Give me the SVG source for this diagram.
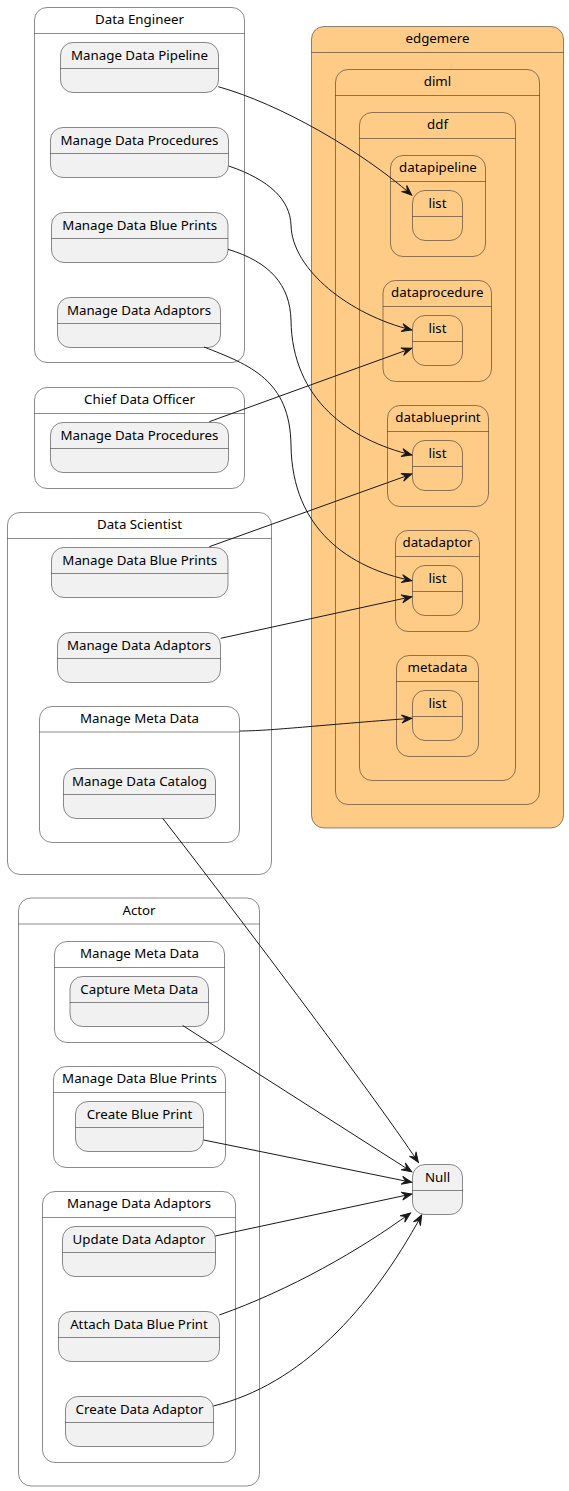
<svg xmlns="http://www.w3.org/2000/svg" width="569" height="1491" viewBox="0 0 569 1491">
<style>
.bg{fill:#FFFFFF}
.grp{fill:#FFFFFF;stroke:#181818;stroke-width:0.5}
.org{fill:#FFCC88;stroke:#181818;stroke-width:0.5}
.node{fill:#F1F1F1;stroke:#181818;stroke-width:0.5}
.onode{fill:#FFCC88;stroke:#181818;stroke-width:0.5}
.sep{stroke:#181818;stroke-width:0.5;fill:none}
.t{font-family:"Noto Sans","DejaVu Sans",sans-serif;font-size:13.3px;fill:#000000;text-anchor:middle}
.e{fill:none;stroke:#181818;stroke-width:1}
</style>
<defs>
<marker id="ah" markerUnits="userSpaceOnUse" markerWidth="12" markerHeight="10" refX="10" refY="4" orient="auto" overflow="visible">
<path d="M0,0 L10,4 L0,8 L4,4 Z" fill="#181818" stroke="#181818" stroke-width="1"/>
</marker>
</defs>
<rect class="bg" x="0" y="0" width="569" height="1491"/>

<g id="edgemere">
<rect class="org" x="311.5" y="26.5" width="252" height="801.5" rx="12.5"/>
<line class="sep" x1="311.5" y1="52.5" x2="563.5" y2="52.5"/>
<text class="t" x="437.5" y="43">edgemere</text>
</g>
<g id="diml">
<rect class="org" x="335.5" y="69.5" width="204" height="735" rx="12.5"/>
<line class="sep" x1="335.5" y1="95.5" x2="539.5" y2="95.5"/>
<text class="t" x="437.5" y="86">diml</text>
</g>
<g id="ddf">
<rect class="org" x="359.5" y="112.5" width="156" height="668" rx="12.5"/>
<line class="sep" x1="359.5" y1="138.5" x2="515.5" y2="138.5"/>
<text class="t" x="437.5" y="129">ddf</text>
</g>
<g id="datapipeline">
<rect class="org" x="390.5" y="155.5" width="95" height="101" rx="12.5"/>
<line class="sep" x1="390.5" y1="181.5" x2="485.5" y2="181.5"/>
<text class="t" x="438" y="172">datapipeline</text>
</g>
<g id="datapipeline-list">
<rect class="onode" x="412.5" y="190.5" width="50" height="50" rx="12.5"/>
<line class="sep" x1="412.5" y1="216.5" x2="462.5" y2="216.5"/>
<text class="t" x="437.5" y="208">list</text>
</g>
<g id="dataprocedure">
<rect class="org" x="383" y="280.5" width="108.5" height="101" rx="12.5"/>
<line class="sep" x1="383" y1="306.5" x2="491.5" y2="306.5"/>
<text class="t" x="437.25" y="297">dataprocedure</text>
</g>
<g id="dataprocedure-list">
<rect class="onode" x="412.5" y="315.5" width="50" height="50" rx="12.5"/>
<line class="sep" x1="412.5" y1="341.5" x2="462.5" y2="341.5"/>
<text class="t" x="437.5" y="333">list</text>
</g>
<g id="datablueprint">
<rect class="org" x="387.5" y="405.5" width="101" height="101" rx="12.5"/>
<line class="sep" x1="387.5" y1="431.5" x2="488.5" y2="431.5"/>
<text class="t" x="438" y="422">datablueprint</text>
</g>
<g id="datablueprint-list">
<rect class="onode" x="412.5" y="440.5" width="50" height="50" rx="12.5"/>
<line class="sep" x1="412.5" y1="466.5" x2="462.5" y2="466.5"/>
<text class="t" x="437.5" y="458">list</text>
</g>
<g id="datadaptor">
<rect class="org" x="395.5" y="530.5" width="84" height="101" rx="12.5"/>
<line class="sep" x1="395.5" y1="556.5" x2="479.5" y2="556.5"/>
<text class="t" x="437.5" y="547">datadaptor</text>
</g>
<g id="datadaptor-list">
<rect class="onode" x="412.5" y="565.5" width="50" height="50" rx="12.5"/>
<line class="sep" x1="412.5" y1="591.5" x2="462.5" y2="591.5"/>
<text class="t" x="437.5" y="583">list</text>
</g>
<g id="metadata">
<rect class="org" x="396.5" y="655.5" width="82" height="101" rx="12.5"/>
<line class="sep" x1="396.5" y1="681.5" x2="478.5" y2="681.5"/>
<text class="t" x="437.5" y="672">metadata</text>
</g>
<g id="metadata-list">
<rect class="onode" x="412.5" y="690.5" width="50" height="50" rx="12.5"/>
<line class="sep" x1="412.5" y1="716.5" x2="462.5" y2="716.5"/>
<text class="t" x="437.5" y="708">list</text>
</g>

<g id="data-engineer">
<rect class="grp" x="34.5" y="7.5" width="210" height="355" rx="12.5"/>
<line class="sep" x1="34.5" y1="33.5" x2="244.5" y2="33.5"/>
<text class="t" x="139.5" y="24">Data Engineer</text>
</g>
<g id="de-pipeline">
<rect class="node" x="60.5" y="42.5" width="158" height="50" rx="12.5"/>
<line class="sep" x1="60.5" y1="68.5" x2="218.5" y2="68.5"/>
<text class="t" x="139.5" y="60">Manage Data Pipeline</text>
</g>
<g id="de-procedures">
<rect class="node" x="50.5" y="127.5" width="178" height="50" rx="12.5"/>
<line class="sep" x1="50.5" y1="153.5" x2="228.5" y2="153.5"/>
<text class="t" x="139.5" y="145">Manage Data Procedures</text>
</g>
<g id="de-blueprints">
<rect class="node" x="51.5" y="212.5" width="176.5" height="50" rx="12.5"/>
<line class="sep" x1="51.5" y1="238.5" x2="228" y2="238.5"/>
<text class="t" x="139.75" y="230">Manage Data Blue Prints</text>
</g>
<g id="de-adaptors">
<rect class="node" x="57.5" y="297.5" width="163" height="50" rx="12.5"/>
<line class="sep" x1="57.5" y1="323.5" x2="220.5" y2="323.5"/>
<text class="t" x="139" y="315">Manage Data Adaptors</text>
</g>

<g id="chief-data-officer">
<rect class="grp" x="34.5" y="387.5" width="210" height="101" rx="12.5"/>
<line class="sep" x1="34.5" y1="413.5" x2="244.5" y2="413.5"/>
<text class="t" x="139.5" y="404">Chief Data Officer</text>
</g>
<g id="cdo-procedures">
<rect class="node" x="50.5" y="422.5" width="178" height="50" rx="12.5"/>
<line class="sep" x1="50.5" y1="448.5" x2="228.5" y2="448.5"/>
<text class="t" x="139.5" y="440">Manage Data Procedures</text>
</g>

<g id="data-scientist">
<rect class="grp" x="7.5" y="512.5" width="264" height="362" rx="12.5"/>
<line class="sep" x1="7.5" y1="538.5" x2="271.5" y2="538.5"/>
<text class="t" x="139.5" y="529">Data Scientist</text>
</g>
<g id="ds-blueprints">
<rect class="node" x="51.5" y="547.5" width="176.5" height="50" rx="12.5"/>
<line class="sep" x1="51.5" y1="573.5" x2="228" y2="573.5"/>
<text class="t" x="139.75" y="565">Manage Data Blue Prints</text>
</g>
<g id="ds-adaptors">
<rect class="node" x="57.5" y="632.5" width="163" height="50" rx="12.5"/>
<line class="sep" x1="57.5" y1="658.5" x2="220.5" y2="658.5"/>
<text class="t" x="139" y="650">Manage Data Adaptors</text>
</g>
<g id="ds-metadata">
<rect class="grp" x="39.5" y="706.5" width="200" height="136" rx="12.5"/>
<line class="sep" x1="39.5" y1="732" x2="239.5" y2="732"/>
<text class="t" x="139.5" y="723">Manage Meta Data</text>
</g>
<g id="ds-catalog">
<rect class="node" x="63.5" y="768.5" width="152" height="50" rx="12.5"/>
<line class="sep" x1="63.5" y1="794.5" x2="215.5" y2="794.5"/>
<text class="t" x="139.5" y="786">Manage Data Catalog</text>
</g>

<g id="actor">
<rect class="grp" x="18.5" y="898" width="241" height="588" rx="12.5"/>
<line class="sep" x1="18.5" y1="924" x2="259.5" y2="924"/>
<text class="t" x="139" y="914.5">Actor</text>
</g>
<g id="actor-metadata">
<rect class="grp" x="54.5" y="941.5" width="170" height="101" rx="12.5"/>
<line class="sep" x1="54.5" y1="967.5" x2="224.5" y2="967.5"/>
<text class="t" x="139.5" y="958">Manage Meta Data</text>
</g>
<g id="actor-capture">
<rect class="node" x="70" y="976.5" width="138.5" height="50" rx="12.5"/>
<line class="sep" x1="70" y1="1002.5" x2="208.5" y2="1002.5"/>
<text class="t" x="139.25" y="994">Capture Meta Data</text>
</g>
<g id="actor-blueprints">
<rect class="grp" x="53.5" y="1066.5" width="172" height="101" rx="12.5"/>
<line class="sep" x1="53.5" y1="1092.5" x2="225.5" y2="1092.5"/>
<text class="t" x="139.5" y="1083">Manage Data Blue Prints</text>
</g>
<g id="actor-create-blueprint">
<rect class="node" x="75.5" y="1101.5" width="128" height="50" rx="12.5"/>
<line class="sep" x1="75.5" y1="1127.5" x2="203.5" y2="1127.5"/>
<text class="t" x="139.5" y="1119">Create Blue Print</text>
</g>
<g id="actor-adaptors">
<rect class="grp" x="42.5" y="1191.5" width="193" height="271" rx="12.5"/>
<line class="sep" x1="42.5" y1="1217.5" x2="235.5" y2="1217.5"/>
<text class="t" x="139" y="1208">Manage Data Adaptors</text>
</g>
<g id="actor-update">
<rect class="node" x="62.5" y="1226.5" width="153" height="50" rx="12.5"/>
<line class="sep" x1="62.5" y1="1252.5" x2="215.5" y2="1252.5"/>
<text class="t" x="139" y="1244">Update Data Adaptor</text>
</g>
<g id="actor-attach">
<rect class="node" x="58.5" y="1311.5" width="161" height="50" rx="12.5"/>
<line class="sep" x1="58.5" y1="1337.5" x2="219.5" y2="1337.5"/>
<text class="t" x="139" y="1329">Attach Data Blue Print</text>
</g>
<g id="actor-create-adaptor">
<rect class="node" x="65.5" y="1396.5" width="148" height="50" rx="12.5"/>
<line class="sep" x1="65.5" y1="1422.5" x2="213.5" y2="1422.5"/>
<text class="t" x="139.5" y="1414">Create Data Adaptor</text>
</g>

<g id="null">
<rect class="node" x="412.5" y="1164.5" width="50" height="50" rx="12.5"/>
<line class="sep" x1="412.5" y1="1190.5" x2="462.5" y2="1190.5"/>
<text class="t" x="437.5" y="1182">Null</text>
</g>

<g id="connectors">
<path class="e" marker-end="url(#ah)" d="M218.3,86.7 C280,104 360,150 411.7,195"/>
<path class="e" marker-end="url(#ah)" d="M228.7,166 C270,180 290,200 291,225 C292,270 350,315 411.7,330"/>
<path class="e" marker-end="url(#ah)" d="M228,249.3 C270,262 290,285 291,320 C292,400 350,440 411.7,455"/>
<path class="e" marker-end="url(#ah)" d="M204,347 C250,365 290,380 291,445 C292,530 350,568 411.7,580.7"/>
<path class="e" marker-end="url(#ah)" d="M209.3,421.7 L411.7,348.3"/>
<path class="e" marker-end="url(#ah)" d="M209.3,546.7 L411.7,474"/>
<path class="e" marker-end="url(#ah)" d="M220.7,638.3 L411.7,596.7"/>
<path class="e" marker-end="url(#ah)" d="M239.7,731 C270,731 320,725 411.7,718.3"/>
<path class="e" marker-end="url(#ah)" d="M162.7,818.3 C230,905 370,1090 418.3,1162.3"/>
<path class="e" marker-end="url(#ah)" d="M182.7,1025.5 L411.7,1171.7"/>
<path class="e" marker-end="url(#ah)" d="M203.7,1140 L411.7,1182.3"/>
<path class="e" marker-end="url(#ah)" d="M215.3,1236 L411.7,1194"/>
<path class="e" marker-end="url(#ah)" d="M219.3,1315 C290,1290 360,1250 410.5,1213"/>
<path class="e" marker-end="url(#ah)" d="M213.3,1406 C300,1385 370,1310 421.7,1215"/>
</g>
</svg>
